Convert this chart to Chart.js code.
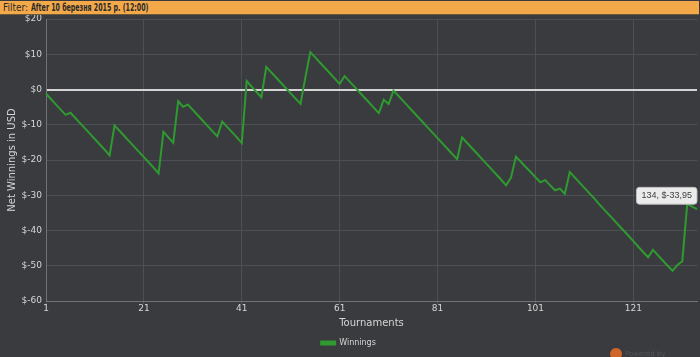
<!DOCTYPE html>
<html>
<head>
<meta charset="utf-8">
<script src="https://cdn.jsdelivr.net/npm/chart.js@4.4.1/dist/chart.umd.min.js"></script>
<style>
  html, body { margin: 0; padding: 0; background: #393b3f; }
  #wrap { position: relative; width: 700px; height: 357px; background: #393b3f; overflow: hidden; }
  #banner { position: absolute; left: 0; top: 1px; width: 699px; height: 14px; background: #f3a94a;
    border-bottom: 1px solid #6b5a3a; font-family: "DejaVu Sans Condensed", "DejaVu Sans", sans-serif; font-size: 10px; line-height: 14px;
    color: #2a2a2a; padding-left: 3px; box-sizing: border-box; z-index: 2; white-space: nowrap; }
  #banner b { font-weight: bold; display: inline-block; transform: scaleX(0.7); transform-origin: 0 50%; }
  #powered { position: absolute; left: 610px; top: 348px; font-family: "DejaVu Sans", sans-serif; font-size: 7px; color: #555; }
  #powered span { display: inline-block; width: 12px; height: 12px; border-radius: 6px; background: #d0662a; vertical-align: middle; margin-right: 3px; }
</style>
</head>
<body>
<div id="wrap">
  <div id="banner">Filter: <b>After 10 березня 2015 р. (12:00)</b></div>
  <canvas id="c" width="700" height="357"></canvas>
  <div id="powered"><span></span>Powered by</div>
</div>
<script>
const tournaments = Array.from({length: 134}, (_, i) => i + 1);
const xTickLabels = [1, 21, 41, 61, 81, 101, 121];
const yTickValues = [20, 10, 0, -10, -20, -30, -40, -50, -60];
const winnings = [
  -1.2, -2.7, -4.2, -5.7, -7.2, -6.6, -8.1, -9.6, -11.1, -12.6,
  -14.1, -15.6, -17.1, -18.7, -10.2, -11.7, -13.2, -14.7, -16.2, -17.7,
  -19.2, -20.7, -22.2, -23.8, -12.0, -13.6, -15.1, -3.3, -4.9, -4.3,
  -5.8, -7.3, -8.8, -10.3, -11.8, -13.3, -9.1, -10.6, -12.1, -13.6,
  -15.2, 2.4, 0.8, -0.7, -2.2, 6.4, 4.9, 3.4, 1.9, 0.4,
  -1.1, -2.6, -4.1, 3.5, 10.6, 9.1, 7.6, 6.1, 4.6, 3.1,
  1.6, 3.8, 2.3, 0.8, -0.7, -2.2, -3.7, -5.2, -6.7, -2.9,
  -4.1, -0.3, -1.8, -3.3, -4.8, -6.3, -7.8, -9.3, -10.8, -12.3,
  -13.8, -15.3, -16.8, -18.3, -19.8, -13.6, -15.1, -16.6, -18.1, -19.6,
  -21.1, -22.6, -24.1, -25.6, -27.2, -25.0, -19.1, -20.5, -22.0, -23.4,
  -24.9, -26.3, -25.7, -27.2, -28.6, -28.1, -29.6, -23.4, -24.9, -26.4,
  -27.9, -29.4, -30.9, -32.5, -34.0, -35.5, -37.0, -38.5, -40.0, -41.5,
  -43.0, -44.6, -46.1, -47.6, -45.5, -47.0, -48.5, -50.0, -51.4, -49.8,
  -48.7, -32.5, -33.2, -33.95
];
const seriesName = 'Winnings';
const highlightIndex = 133;

const FONT = '"DejaVu Sans", sans-serif';
const TXT = '#d6d6d6';
const GRID = '#4c4f54';

Chart.Tooltip.positioners.pinned = function (elements) {
  if (!elements.length) return false;
  const el = elements[0].element;
  return { x: el.x - 3, y: el.y - 5, xAlign: 'right', yAlign: 'bottom' };
};

const chart = new Chart(document.getElementById('c'), {
  type: 'line',
  data: {
    labels: tournaments,
    datasets: [{
      label: seriesName,
      data: winnings,
      borderColor: '#2f9a30',
      backgroundColor: '#2f9a30',
      borderWidth: 2,
      pointRadius: 0,
      pointHoverRadius: 0,
      tension: 0,
      fill: false
    }]
  },
  options: {
    responsive: false,
    animation: false,
    events: [],
    layout: { padding: { left: 0, right: 3, top: 19, bottom: 0 } },
    scales: {
      x: {
        type: 'category',
        offset: false,
        afterBuildTicks: (s) => { s.ticks = s.ticks.filter(t => xTickLabels.includes(tournaments[t.value])); },
        afterFit: (s) => { s.height = 31; },
        ticks: {
          autoSkip: false, maxRotation: 0, color: TXT, padding: -1,
          font: { family: FONT, size: 9 },
          callback: function (v) { return String(tournaments[v]); }
        },
        grid: { color: GRID, lineWidth: 1, tickLength: 3, drawTicks: true },
        border: { color: '#707378', width: 1 },
        title: { display: true, text: 'Tournaments', color: TXT, font: { family: FONT, size: 10 }, padding: { top: 2, bottom: 3 } }
      },
      y: {
        min: -60, max: 20,
        afterBuildTicks: (s) => { s.ticks = yTickValues.map(v => ({ value: v })); },
        afterFit: (s) => { s.width = 46; },
        ticks: {
          color: TXT, padding: 4, font: { family: FONT, size: 9 },
          callback: (v) => '$' + v
        },
        grid: {
          color: (ctx) => (ctx.tick && ctx.tick.value === 0 ? '#d4d4d4' : GRID),
          lineWidth: (ctx) => (ctx.tick && ctx.tick.value === 0 ? 2 : 1),
          drawTicks: false
        },
        border: { color: '#707378', width: 1 },
        title: { display: true, text: 'Net Winnings in USD', color: TXT, font: { family: FONT, size: 10 }, padding: { top: 6, bottom: 0 } }
      }
    },
    plugins: {
      legend: {
        display: true, position: 'bottom',
        labels: { color: TXT, font: { family: FONT, size: 8 }, boxWidth: 14, boxHeight: 3, padding: 7 }
      },
      tooltip: {
        enabled: true,
        position: 'pinned',
        displayColors: false,
        backgroundColor: '#ebebeb',
        borderColor: '#bdbdbd',
        borderWidth: 1,
        bodyColor: '#404040',
        bodyFont: { family: '"Liberation Sans", sans-serif', size: 9 },
        padding: { left: 5, right: 5, top: 3, bottom: 3 },
        cornerRadius: 3,
        caretSize: 0,
        caretPadding: 0,
        callbacks: {
          title: () => '',
          label: (ctx) => tournaments[ctx.dataIndex] + ', $' + String(ctx.parsed.y.toFixed(2)).replace('.', ',')
        }
      }
    }
  }
});
chart.tooltip.setActiveElements([{ datasetIndex: 0, index: highlightIndex }], { x: 0, y: 0 });
chart.update();
</script>
</body>
</html>
